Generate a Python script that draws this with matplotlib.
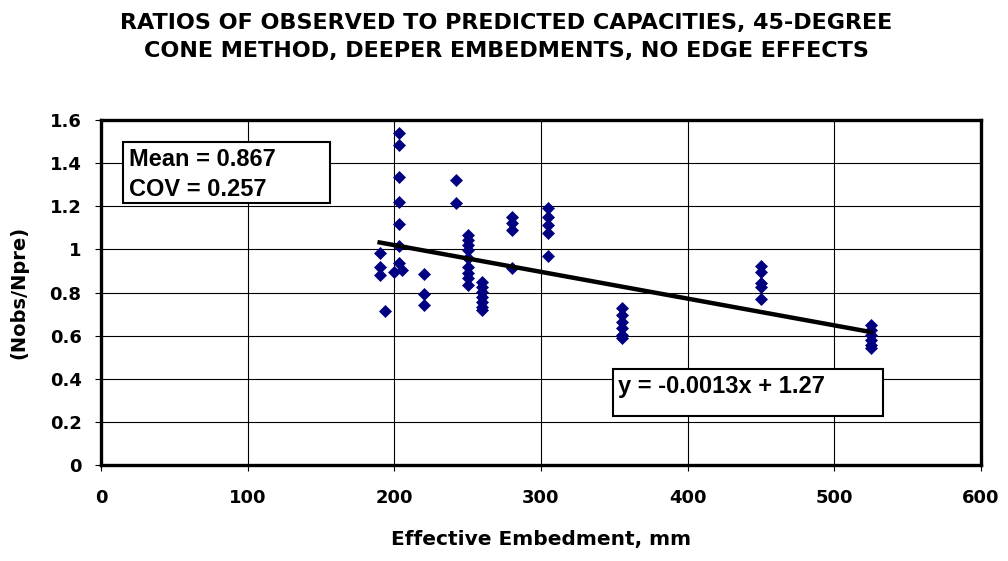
import numpy as np
import matplotlib
matplotlib.use('Agg')
import matplotlib.pyplot as plt
from matplotlib.patches import Rectangle

plt.rcParams['font.family'] = ['DejaVu Sans']
plt.rcParams['font.weight'] = 'bold'

# Дані
embed_190 = [190, 190, 190, 194]
ratio_190 = [0.985, 0.92, 0.88, 0.713]
embed_203 = [203, 203, 203, 203, 203, 203, 203, 205, 200]
ratio_203 = [1.541, 1.484, 1.337, 1.221, 1.118, 1.018, 0.935, 0.905, 0.895]
embed_220 = [220, 220, 220]
ratio_220 = [0.888, 0.793, 0.741]
embed_242 = [242, 242]
ratio_242 = [1.320, 1.214]
embed_250 = [250] * 9
ratio_250 = [1.065, 1.044, 1.020, 0.997, 0.959, 0.920, 0.889, 0.866, 0.835]
embed_260 = [260] * 7
ratio_260 = [0.850, 0.827, 0.804, 0.781, 0.757, 0.734, 0.720]
embed_280 = [280] * 4
ratio_280 = [1.152, 1.121, 1.090, 0.912]
embed_305 = [305] * 5
ratio_305 = [1.190, 1.152, 1.113, 1.075, 0.969]
embed_355 = [355] * 6
ratio_355 = [0.727, 0.696, 0.665, 0.634, 0.603, 0.590]
embed_450 = [450] * 5
ratio_450 = [0.925, 0.897, 0.843, 0.824, 0.768]
embed_525 = [525] * 6
ratio_525 = [0.649, 0.626, 0.603, 0.580, 0.557, 0.545]

# Лінія тренду, як вона намальована на графіку
trend_slope = -0.00124
trend_intercept = 1.268

x = np.array(embed_190 + embed_203 + embed_220 + embed_242 + embed_250 + embed_260
             + embed_280 + embed_305 + embed_355 + embed_450 + embed_525, dtype=float)
y = np.array(ratio_190 + ratio_203 + ratio_220 + ratio_242 + ratio_250 + ratio_260
             + ratio_280 + ratio_305 + ratio_355 + ratio_450 + ratio_525)
x_trend = np.array([x.min(), x.max()])

y_ticks = [0, 0.2, 0.4, 0.6, 0.8, 1.0, 1.2, 1.4, 1.6]
y_tick_labels = ['0', '0.2', '0.4', '0.6', '0.8', '1', '1.2', '1.4', '1.6']
x_ticks = [0, 100, 200, 300, 400, 500, 600]

fig = plt.figure(figsize=(10.08, 5.61), dpi=100)
ax = fig.add_axes([0.1002, 0.171, 0.8728, 0.615])

ax.plot(x, y, linestyle='none', marker='D', markersize=6.6, color='#000080',
        markeredgewidth=0.5, zorder=3)
ax.plot(x_trend, trend_slope * x_trend + trend_intercept, color='black',
        linewidth=3.2, zorder=4)

ax.set_xlim(0, 600)
ax.set_ylim(0, 1.6)
ax.set_xticks(x_ticks)
ax.set_yticks(y_ticks)
ax.set_yticklabels(y_tick_labels)
ax.tick_params(labelsize=13, length=4, width=0.8, direction='out')
ax.tick_params(axis='y', pad=10)
ax.tick_params(axis='x', pad=13)
ax.grid(True, color='black', linewidth=0.8)
ax.set_axisbelow(True)
for s in ax.spines.values():
    s.set_linewidth(2.4)

ax.set_xlabel('Effective Embedment, mm', fontsize=14.5, fontweight='bold', labelpad=17)
ax.set_ylabel('(Nobs/Npre)', fontsize=14, fontweight='bold', labelpad=15)

fig.text(0.502, 0.976, 'RATIOS OF OBSERVED TO PREDICTED CAPACITIES, 45-DEGREE\n'
         'CONE METHOD, DEEPER EMBEDMENTS, NO EDGE EFFECTS',
         ha='center', va='top', fontsize=16, fontweight='bold', linespacing=1.45)

# Текстові поля
W, H = 1008, 561
box_font = ['Liberation Sans', 'DejaVu Sans']
fig.patches.append(Rectangle((123 / W, 1 - 203 / H), 207 / W, 61 / H,
                             transform=fig.transFigure, facecolor='white',
                             edgecolor='black', linewidth=1.5, zorder=5))
fig.text(129 / W, 1 - 160 / H, 'Mean = 0.867', fontsize=17, fontweight='bold',
         family=box_font, va='center', zorder=6)
fig.text(129 / W, 1 - 190 / H, 'COV = 0.257', fontsize=17, fontweight='bold',
         family=box_font, va='center', zorder=6)

fig.patches.append(Rectangle((613 / W, 1 - 416 / H), 270 / W, 47 / H,
                             transform=fig.transFigure, facecolor='white',
                             edgecolor='black', linewidth=1.5, zorder=5))
fig.text(618 / W, 1 - 387 / H, 'y = -0.0013x + 1.27', fontsize=17, fontweight='bold',
         family=box_font, va='center', zorder=6)

fig.savefig('out.png', dpi=100)
